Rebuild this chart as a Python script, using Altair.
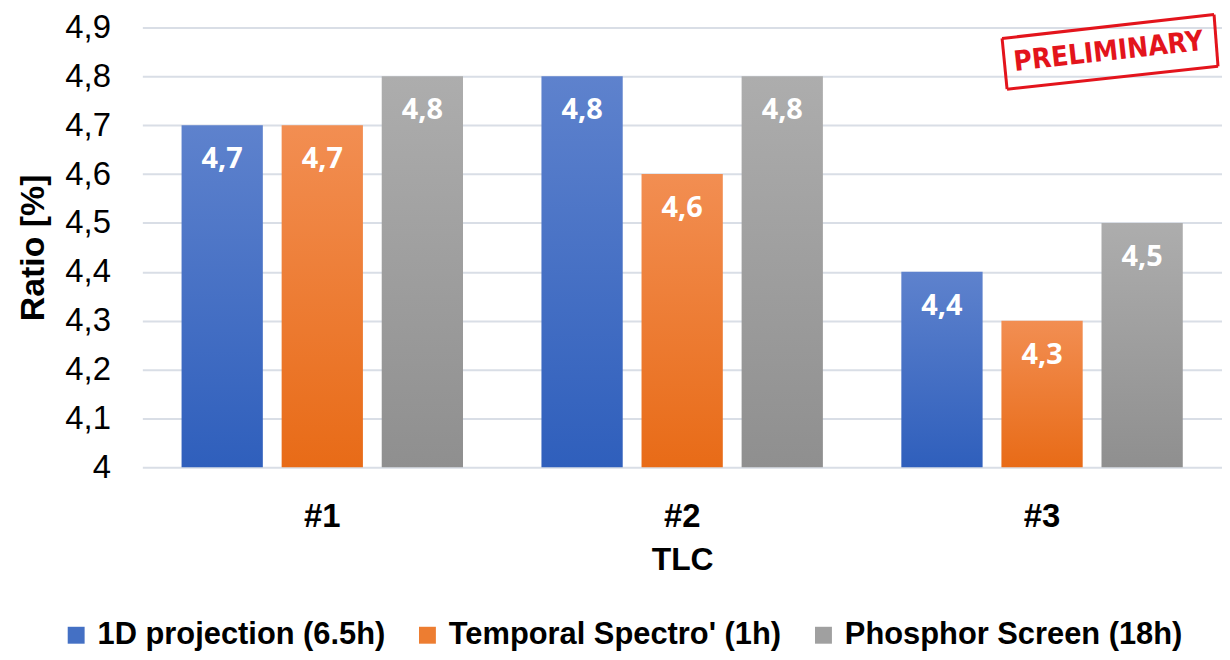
import altair as alt
import pandas as pd

tlc = ["#1", "#2", "#3"]
series = ["1D projection (6.5h)", "Temporal Spectro' (1h)", "Phosphor Screen (18h)"]
proj = [4.7, 4.8, 4.4]
spectro = [4.7, 4.6, 4.3]
phosphor = [4.8, 4.8, 4.5]
y_ticks = [4.0, 4.1, 4.2, 4.3, 4.4, 4.5, 4.6, 4.7, 4.8, 4.9]

tops = ["#5e82cd", "#f28e52", "#adadad"]
bottoms = ["#2f5fbc", "#e86b17", "#8f8f8f"]
mids = ["#4470c4", "#ed7d31", "#a0a0a0"]

rows = []
for s, vals in zip(series, [proj, spectro, phosphor]):
    for t, v in zip(tlc, vals):
        rows.append({"TLC": t, "series": s, "value": v})
df = pd.DataFrame(rows)
df["label"] = df["value"].map(lambda v: f"{v:.1f}".replace(".", ","))

AX_FONT = "Liberation Sans, Arial, sans-serif"

x_enc = alt.X(
    "TLC:N", sort=tlc,
    scale=alt.Scale(paddingInner=0.218, paddingOuter=0.109),
    axis=alt.Axis(title="TLC", labelAngle=0, labelFont=AX_FONT, labelFontSize=33,
                  labelFontWeight="bold", labelColor="#000", labelPadding=33,
                  ticks=False, domain=False, titleFont=AX_FONT, titleFontSize=32,
                  titleFontWeight="bold", titleColor="#000", titlePadding=12),
)
xo_enc = alt.XOffset("series:N", sort=series,
                     scale=alt.Scale(domain=series, paddingInner=0.188, paddingOuter=0))
y_enc = alt.Y(
    "value:Q",
    scale=alt.Scale(domain=[4, 4.9], nice=False, zero=False),
    axis=alt.Axis(values=y_ticks, labelExpr="replace(format(datum.value, '.1~f'), '.', ',')",
                  title="Ratio [%]", grid=True, gridColor="#d9dee6", gridWidth=2,
                  ticks=False, domain=False, labelFont=AX_FONT, labelFontSize=33,
                  labelColor="#000", labelPadding=32, titleFont=AX_FONT,
                  titleFontSize=34, titleFontWeight="bold", titleColor="#000",
                  titlePadding=14),
)

base = alt.Chart(df)


def grad(top, bottom):
    return alt.LinearGradient(
        gradient="linear",
        stops=[alt.GradientStop(color=top, offset=0), alt.GradientStop(color=bottom, offset=1)],
        x1=0, x2=0, y1=0, y2=1,
    )


legend_layer = base.mark_bar().encode(
    x=x_enc, xOffset=xo_enc, y=alt.datum(4), y2=alt.datum(4),
    color=alt.Color("series:N", sort=series,
                    scale=alt.Scale(domain=series, range=mids),
                    legend=alt.Legend(title=None, orient="none", direction="horizontal",
                                      legendX=-82, legendY=595,
                                      labelFont=AX_FONT, labelFontSize=31,
                                      labelFontWeight="bold", labelColor="#000",
                                      symbolType="square", symbolSize=289,
                                      symbolStrokeWidth=0, columnPadding=26,
                                      labelOffset=6, labelLimit=0)),
)

bar_layers = []
for s, t, b in zip(series, tops, bottoms):
    bar_layers.append(
        base.transform_filter(alt.datum.series == s).mark_bar(color=grad(t, b)).encode(
            x=x_enc, xOffset=xo_enc, y=y_enc, y2=alt.datum(4)
        )
    )

labels = base.mark_text(color="white", font="Open Sans, sans-serif", fontSize=29,
                        fontWeight="bold", baseline="middle", dy=34).encode(
    x=x_enc, xOffset=xo_enc, y=y_enc, text="label:N"
)

stamp_df = pd.DataFrame({"t": ["PRELIMINARY"]})
stamp_text = alt.Chart(stamp_df).mark_text(
    color="#e3141c", font="Liberation Sans Narrow, DejaVu Sans Condensed, sans-serif",
    fontSize=28, fontWeight="bold", angle=353.6, align="center", baseline="middle"
).encode(x=alt.value(971), y=alt.value(25), text="t:N")

red = "#e3141c"
box = [((864, 11), (1077, -13)), ((1077, -13), (1081, 39)),
       ((1081, 39), (869, 62)), ((869, 62), (864, 11))]
box_layers = [
    alt.Chart(stamp_df).mark_rule(color=red, strokeWidth=3).encode(
        x=alt.value(a[0]), y=alt.value(a[1]), x2=alt.value(b[0]), y2=alt.value(b[1]))
    for a, b in box
]

chart = alt.layer(legend_layer, *bar_layers, labels, stamp_text, *box_layers).properties(
    width=1085, height=442,
    autosize=alt.AutoSizeParams(type="none"),
    padding={"left": 135, "top": 18, "right": 0, "bottom": 184},
    background="white",
).configure_view(stroke=None)

chart.save("out.html", embed_options={"renderer": "svg", "actions": False})
